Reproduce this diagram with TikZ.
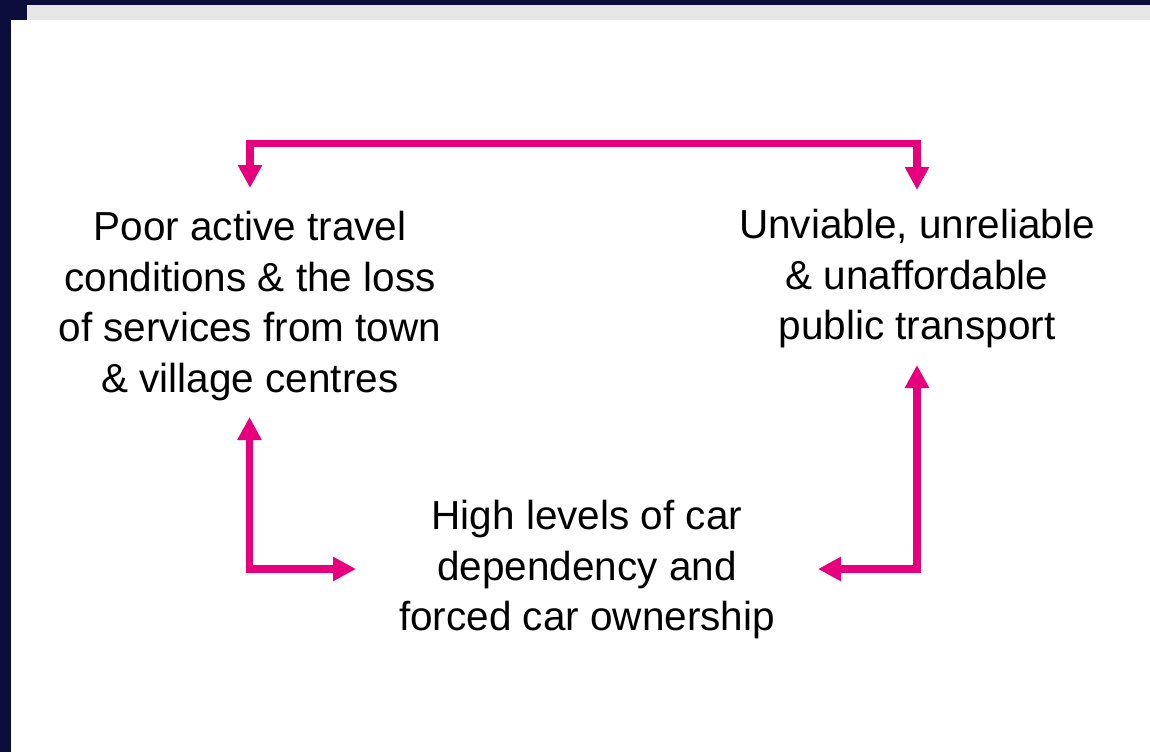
\documentclass[tikz,border=0pt]{standalone}
\usepackage{fontspec}
\setmainfont{Liberation Sans}
\usetikzlibrary{arrows.meta}
\definecolor{navy}{HTML}{0D0D3D}
\definecolor{band}{HTML}{E6E6E6}
\definecolor{loopcol}{HTML}{E6007E}
\begin{document}
\begin{tikzpicture}[x=1pt,y=-1pt,
  label/.style={align=center,inner sep=0pt,font=\fontsize{40.5}{50.5}\selectfont,text=black},
  link/.style={draw=loopcol,line width=7.5pt,line join=miter,
    arrows={Triangle[width=23pt,length=23pt]-Triangle[width=23pt,length=23pt]}}]
\useasboundingbox (0,0) rectangle (1150,752);
% page frame
\fill[white] (0,0) rectangle (1150,752);
\fill[navy] (0,0) rectangle (11,752);
\fill[navy] (0,0) rectangle (1150,5);
\fill[navy] (0,0) rectangle (27,20);
\fill[band] (27,5) rectangle (1150,20);
% text blocks
\node[label] (active) at (250,306) {Poor active travel\\conditions \& the loss\\of services from town\\\& village centres};
\node[label] (transit) at (917,279) {Unviable, unreliable\\\& unaffordable\\public transport};
\node[label] (cars) at (587,570) {High levels of car\\dependency and\\forced car ownership};
% connector end points
\coordinate (aTop) at (250,188);
\coordinate (tTop) at (917,190);
\coordinate (aBot) at (249.5,417);
\coordinate (cLeft) at (356,569);
\coordinate (tBot) at (917,365);
\coordinate (cRight) at (818,569);
% connectors
\draw[link] (aTop) -- (aTop |- 0,143.5) -- (tTop |- 0,143.5) -- (tTop);
\draw[link] (aBot) |- (cLeft);
\draw[link] (tBot) |- (cRight);
\end{tikzpicture}
\end{document}
